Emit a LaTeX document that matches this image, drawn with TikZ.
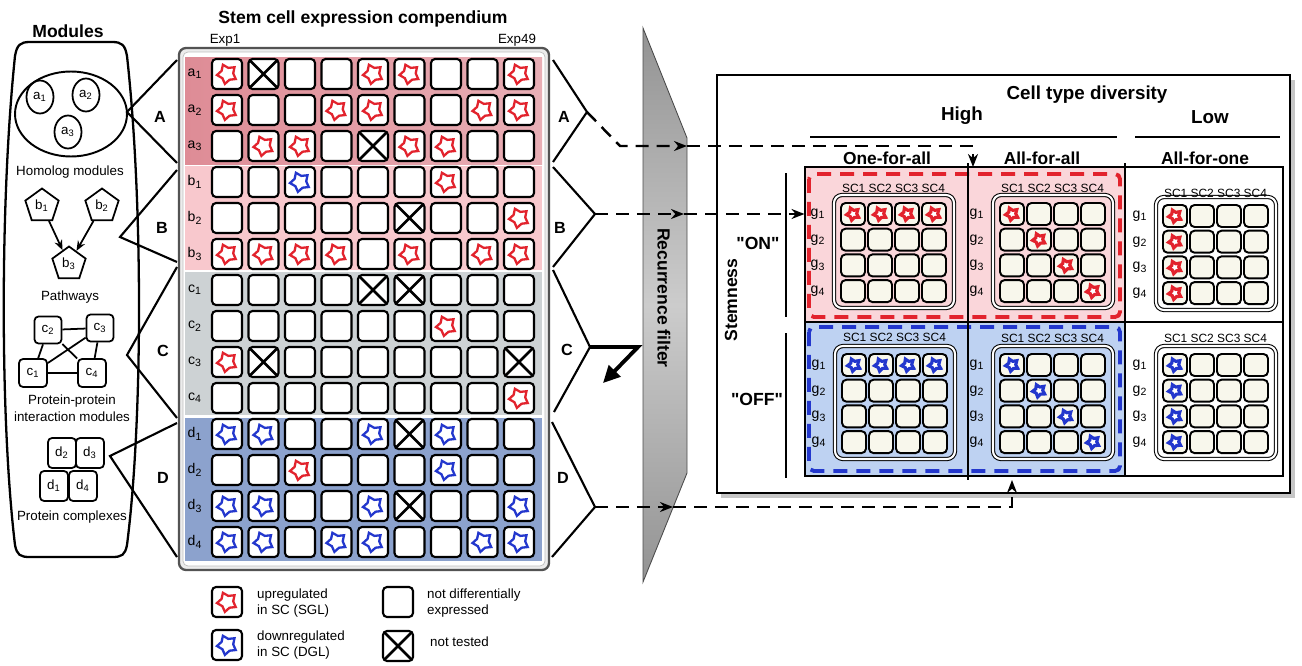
\documentclass[tikz,border=0pt]{standalone}
\usepackage{fontspec}
\setmainfont{Liberation Sans}
\usetikzlibrary{shapes,arrows,arrows.meta,positioning,calc}
\definecolor{bandA}{RGB}{222,140,150}
\definecolor{bandB}{RGB}{248,200,205}
\definecolor{bandC}{RGB}{205,210,212}
\definecolor{bandD}{RGB}{140,162,205}
\definecolor{upred}{RGB}{226,35,45}
\definecolor{downblue}{RGB}{35,55,205}
\definecolor{pinkq}{RGB}{250,214,218}
\definecolor{blueq}{RGB}{190,210,242}
\definecolor{cream}{RGB}{248,247,236}

\begin{document}
\begin{tikzpicture}[
  x=0.02cm, y=-0.02cm,
  txt/.style={font=\fontsize{7.6}{9.6}\selectfont},
  ttl/.style={font=\bfseries\fontsize{10}{12}\selectfont},
  big/.style={font=\bfseries\fontsize{10.7}{13}\selectfont},
  sub/.style={font=\bfseries\fontsize{9.9}{12}\selectfont},
  lbl/.style={font=\bfseries\fontsize{9.2}{11}\selectfont},
  rowlbl/.style={font=\fontsize{8}{10}\selectfont},
  hdr/.style={font=\fontsize{6.8}{8}\selectfont},
  glbl/.style={font=\fontsize{8}{10}\selectfont},
  mod/.style={draw, line width=1pt, inner sep=0pt, font=\fontsize{7.6}{9}\selectfont},
  brk/.style={line width=1.2pt},
  cell/.style={draw, line width=1.2pt, rounded corners=0.08cm, fill=white, minimum size=0.6cm, inner sep=0pt},
  sgl/.style={star, star points=5, star point ratio=0.62, draw=upred, fill=white, sharp corners, line width=1.3pt, minimum size=0.25cm, inner sep=0pt, rotate=-12},
  dgl/.style={sgl, draw=downblue},
  cellE/.style={cell},
  cellR/.style={cell, path picture={\node[sgl] at (path picture bounding box.center) {};}},
  cellB/.style={cell, path picture={\node[dgl] at (path picture bounding box.center) {};}},
  cellX/.style={cell, path picture={\draw[line width=1.6pt] (path picture bounding box.north west) -- (path picture bounding box.south east) (path picture bounding box.north east) -- (path picture bounding box.south west);}},
  mini/.style={draw, line width=1.1pt, rounded corners=0.09cm, fill=cream, minimum width=0.48cm, minimum height=0.44cm, inner sep=0pt},
  ministar/.style={star, star points=5, star point ratio=0.58, line width=1.8pt, fill=white, sharp corners, minimum size=0.15cm, inner sep=0pt, rotate=-12},
  dashln/.style={line width=1.4pt, dash pattern=on 0.26cm off 0.16cm},
  tip/.style={-{Stealth[length=0.26cm, width=0.2cm]}}
]
\useasboundingbox (0,0) rectangle (1302,666);

% modules panel
\draw[line width=1.3pt, fill=white] (30,42) -- (112,42) .. controls (122,42) and (125,45) .. (127,56) .. controls (143,200) and (143,420) .. (127,545) .. controls (125,555) and (122,557) .. (112,557) -- (30,557) .. controls (20,557) and (17,555) .. (15,545) .. controls (0,420) and (0,200) .. (15,56) .. controls (17,45) and (20,42) .. (30,42) -- cycle;
\node[ttl] (modt) at (68,31) {Modules};
\node[draw, ellipse, line width=1.1pt, minimum width=2.24cm, minimum height=1.7cm] (hom) at (71,114) {};
\node[mod, ellipse, minimum width=0.54cm, minimum height=0.66cm] (a1) at (40,97) {a\textsubscript{1}};
\node[mod, ellipse, minimum width=0.54cm, minimum height=0.66cm] (a2) at (86,95) {a\textsubscript{2}};
\node[mod, ellipse, minimum width=0.54cm, minimum height=0.66cm] (a3) at (68,132) {a\textsubscript{3}};
\node[txt] (homt) at (70,172) {Homolog modules};
\node[mod, regular polygon, regular polygon sides=5, minimum size=0.7cm] (b1) at (42,206) {b\textsubscript{1}};
\node[mod, regular polygon, regular polygon sides=5, minimum size=0.7cm] (b2) at (102,206) {b\textsubscript{2}};
\node[mod, regular polygon, regular polygon sides=5, minimum size=0.7cm] (b3) at (69,264) {b\textsubscript{3}};
\draw[-{Stealth[length=0.2cm, width=0.16cm]}, line width=1pt] (b1) -- (b3);
\draw[-{Stealth[length=0.2cm, width=0.16cm]}, line width=1pt] (b2) -- (b3);
\node[txt] (patht) at (70,297) {Pathways};
\node[mod, fill=white, rounded corners=0.08cm, minimum size=0.54cm] (c2) at (48,330) {c\textsubscript{2}};
\node[mod, fill=white, rounded corners=0.08cm, minimum size=0.54cm] (c3) at (100,328) {c\textsubscript{3}};
\node[mod, fill=white, rounded corners=0.08cm, minimum size=0.56cm] (c1) at (33,373) {c\textsubscript{1}};
\node[mod, fill=white, rounded corners=0.08cm, minimum size=0.56cm] (c4) at (92,373) {c\textsubscript{4}};
\draw[line width=1pt] (c2) -- (c3) (c1) -- (c4) (c2) -- (c1) (c3) -- (c4) (c1) -- (c3) (c2) -- (c4);
\node[txt, align=center] (ppit) at (72,408) {Protein-protein\\interaction modules};
\node[mod, rounded corners=0.08cm, minimum width=0.56cm, minimum height=0.6cm] (d2) at (62,453) {d\textsubscript{2}};
\node[mod, rounded corners=0.08cm, minimum width=0.56cm, minimum height=0.6cm] (d3) at (90,453) {d\textsubscript{3}};
\node[mod, rounded corners=0.08cm, minimum width=0.56cm, minimum height=0.6cm] (d1) at (54,486) {d\textsubscript{1}};
\node[mod, rounded corners=0.08cm, minimum width=0.56cm, minimum height=0.6cm] (d4) at (83,486) {d\textsubscript{4}};
\node[txt] (cplxt) at (72,517) {Protein complexes};

% brackets to the compendium
\coordinate (lA1) at (177,60);  \coordinate (lA) at (127,112); \coordinate (lA2) at (177,163);
\coordinate (lB1) at (177,170); \coordinate (lB) at (120,237); \coordinate (lB2) at (177,262);
\coordinate (lC1) at (177,267); \coordinate (lC) at (127,355); \coordinate (lC2) at (177,418);
\coordinate (lD1) at (177,423); \coordinate (lD) at (110,456); \coordinate (lD2) at (177,557);
\draw[brk] (lA1) -- (lA) -- (lA2);
\draw[brk] (lB1) -- (lB) -- (lB2);
\draw[brk] (lC1) -- (lC) -- (lC2);
\draw[brk] (lD1) -- (lD) -- (lD2);
\node[lbl] (labA) at (160,117) {A};
\node[lbl] (labB) at (162,228) {B};
\node[lbl] (labC) at (163,351) {C};
\node[lbl] (labD) at (163,478) {D};

% compendium
\node[ttl] (compt) at (363,19) {Stem cell expression compendium};
\node[txt] (exp1) at (225,40) {Exp1};
\node[txt] (exp49) at (517,40) {Exp49};
\draw[line width=1.3pt, draw=gray!65!black, fill=gray!15, rounded corners=0.14cm] (179,48) rectangle (549,570);
\draw[draw=gray!50, fill=white, rounded corners=0.1cm] (183,52) rectangle (545,566);
\shade[left color=bandA, right color=bandA!70!white] (185,57) rectangle (542,164);
\fill[bandB] (185,166) rectangle (542,270);
\fill[bandC] (185,272) rectangle (542,415);
\fill[bandD] (185,418) rectangle (542,561);
\foreach \ltr/\n [count=\i] in {a/1,a/2,a/3,b/1,b/2,b/3,c/1,c/2,c/3,c/4,d/1,d/2,d/3,d/4}
  \node[rowlbl] (r\i) at (195,{74+36*(\i-1)}) {\ltr\textsubscript{\n}};
\foreach \cells [count=\i] in {
  {R,X,E,E,R,R,E,E,R},
  {R,E,E,R,R,E,E,R,R},
  {E,R,R,E,X,R,R,E,E},
  {E,E,B,E,E,E,R,E,E},
  {E,E,E,E,E,X,E,E,R},
  {R,R,R,R,E,R,E,R,R},
  {E,E,E,E,X,X,E,E,E},
  {E,E,E,E,E,E,R,E,E},
  {R,X,E,E,E,E,E,E,X},
  {E,E,E,E,E,E,E,E,R},
  {B,B,E,E,B,X,B,E,E},
  {E,E,R,E,E,E,B,E,E},
  {B,B,E,E,B,X,E,E,B},
  {B,B,E,B,B,E,E,B,B}}
  \foreach \st [count=\j] in \cells
    \node[cell\st] (m\i-\j) at ({227+36.5*(\j-1)},{74+36*(\i-1)}) {};

% legend
\node[cellR] (lgUp) at (227,602) {};
\node[cellB] (lgDown) at (227,645) {};
\node[cellE] (lgNone) at (398,602) {};
\node[cellX] (lgNT) at (398,646) {};
\node[txt, align=left, anchor=west] (lgUpt) at (251,603) {upregulated\\in SC (SGL)};
\node[txt, align=left, anchor=west] (lgDownt) at (251,645) {downregulated\\in SC (DGL)};
\node[txt, align=left, anchor=west] (lgNonet) at (421,603) {not differentially\\expressed};
\node[txt, anchor=west] (lgNTt) at (424,642) {not tested};

% brackets to the filter
\coordinate (rA1) at (553,60);  \coordinate (rA) at (587,112); \coordinate (rA2) at (553,162);
\coordinate (rB1) at (553,167); \coordinate (rB) at (595,214); \coordinate (rB2) at (553,267);
\coordinate (rC1) at (553,270); \coordinate (rC) at (590,347); \coordinate (rC2) at (554,412);
\coordinate (rD1) at (552,422); \coordinate (rD) at (595,507); \coordinate (rD2) at (552,557);
\draw[brk] (rA1) -- (rA) -- (rA2);
\draw[brk] (rB1) -- (rB) -- (rB2);
\draw[brk] (rC1) -- (rC) -- (rC2);
\draw[brk] (rD1) -- (rD) -- (rD2);
\node[lbl] (labRA) at (564,117) {A};
\node[lbl] (labRB) at (560,228) {B};
\node[lbl] (labRC) at (567,350) {C};
\node[lbl] (labRD) at (563,478) {D};

% recurrence filter
\shade[top color=gray!85, bottom color=gray!85, middle color=gray!40, draw=gray!60!black, line width=0.5pt] (643,28) -- (687,138) -- (687,473) -- (643,582) -- cycle;
\node[ttl, rotate=-90] (filt) at (664,298) {Recurrence filter};
\coordinate (cTurn) at (638,347);
\coordinate (cEnd) at (603,383);
\draw[line width=2.2pt, -{Triangle[length=0.34cm, width=0.32cm]}] (rC) -- (cTurn) -- (cEnd);

% cell type diversity panel
\fill[gray!45] (721,80) rectangle (1295,498);
\draw[line width=1.5pt, fill=white] (717,75) rectangle (1290,493);
\node[big] (ctd) at (1087,95) {Cell type diversity};
\node[big] (high) at (962,116) {High};
\node[big] (low) at (1210,117) {Low};
\draw[line width=1.2pt] (810,137) -- (1117,137);
\draw[line width=1.2pt] (1135,137) -- (1280,137);
\node[sub] (ofa) at (887,158) {One-for-all};
\node[sub] (afa) at (1042,158) {All-for-all};
\node[sub] (afo) at (1205,158) {All-for-one};
\fill[pinkq] (806,168) rectangle (1124,321);
\fill[blueq] (806,323) rectangle (1124,475);
\draw[line width=2.2pt, upred, dash pattern=on 0.28cm off 0.18cm, rounded corners=0.1cm] (809,174) rectangle (1120,317);
\draw[line width=2.2pt, downblue, dash pattern=on 0.28cm off 0.18cm, rounded corners=0.1cm] (809,327) rectangle (1120,471);
\draw[line width=0.9pt] (805,167) -- (1283,167) -- (1283,476) -- (805,476) -- cycle;
\draw[line width=0.9pt] (805,322) -- (1283,322);
\draw[line width=0.9pt] (968,163) -- (968,480);
\draw[line width=0.9pt] (1125,163) -- (1125,476);
\draw[line width=1.2pt] (786,173) -- (786,317);
\draw[line width=1.2pt] (786,333) -- (786,478);
\node[ttl] (on) at (758,243) {\textquotedbl ON\textquotedbl};
\node[ttl] (off) at (757,399) {\textquotedbl OFF\textquotedbl};
\node[ttl, rotate=90] (stem) at (731,300) {Stemness};
\foreach \qx/\qy/\hy/\kind/\col [count=\q] in {853/214/188/1/upred, 1012/214/188/2/upred, 1175/216/193/3/upred, 854/365/337/1/downblue, 1012/365/338/2/downblue, 1175/365/338/3/downblue} {
  \draw[line width=0.6pt, double=white, double distance=1.2pt, rounded corners=0.16cm] ({\qx-19},{\qy-19}) rectangle ({\qx+101},{\qy+94});
  \node[hdr] (h\q) at ({\qx+40.5},\hy) {SC1 SC2 SC3 SC4};
  \foreach \r in {1,...,4} {
    \node[glbl] (g\q-\r) at ({\qx-35},{\qy+25.7*(\r-1)}) {g\textsubscript{\r}};
    \foreach \sc in {1,...,4} {
      \node[mini] (q\q-\r-\sc) at ({\qx+27*(\sc-1)},{\qy+25.7*(\r-1)}) {};
      \pgfmathtruncatemacro\hit{or(or(and(\kind==1,\r==1),and(\kind==2,\r==\sc)),and(\kind==3,\sc==1))}
      \ifnum\hit=1 \node[ministar, draw=\col] at (q\q-\r-\sc) {};\fi
    }
  }
}

% dashed routes through the filter
\coordinate (fA) at (687,146);
\coordinate (fB) at (684,214);
\coordinate (fD) at (673,507);
\coordinate (aEnd) at (973,167);
\coordinate (dEnd) at (1012,480);
\draw[dashln, tip] (rA) -- ++(33,34) -- (fA);
\draw[dashln, tip] (fA) -- (fA -| aEnd) -- (aEnd);
\draw[dashln, tip] (rB) -- (fB);
\draw[dashln, tip] (fB) -- (g1-1.west);
\draw[dashln, tip] (rD) -- (fD);
\draw[dashln, tip] (fD) -- (fD -| dEnd) -- (dEnd);
\end{tikzpicture}
\end{document}
